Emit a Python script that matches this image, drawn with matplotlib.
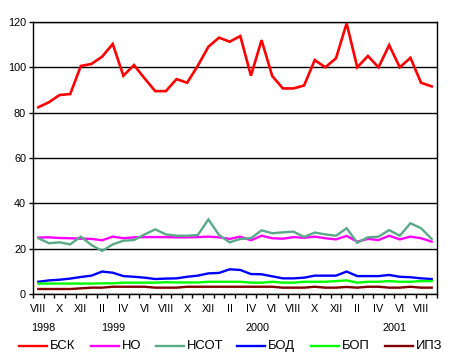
import numpy as np
import matplotlib
matplotlib.use("Agg")
import matplotlib.pyplot as plt
from matplotlib.lines import Line2D
import matplotlib.transforms as mtransforms

plt.rcParams['font.family'] = ['Liberation Sans', 'DejaVu Sans']

months = ['VIII', 'IX', 'X', 'XI', 'XII', 'I', 'II', 'III', 'IV', 'V', 'VI', 'VII',
          'VIII', 'IX', 'X', 'XI', 'XII', 'I', 'II', 'III', 'IV', 'V', 'VI', 'VII',
          'VIII', 'IX', 'X', 'XI', 'XII', 'I', 'II', 'III', 'IV', 'V', 'VI', 'VII',
          'VIII', 'IX']
years = ['1998', '1999', '2000', '2001']
year_pos = [0.44, 7.0, 20.6, 33.5]

series_names = ['БСК', 'НО', 'НСОТ', 'БОД', 'БОП', 'ИПЗ']

bsk = [82.4, 84.6, 87.8, 88.2, 100.6, 101.5, 104.7, 110.3, 96.3, 101.0, 95.1, 89.5, 89.5,
       94.8, 93.2, 100.7, 109.1, 113.1, 111.3, 113.8, 96.3, 112.0, 96.2, 90.7, 90.7, 92.0,
       103.2, 100.0, 104.0, 119.4, 100.0, 105.0, 100.0, 109.8, 100.0, 104.2, 93.2, 91.6]
no = [24.9, 25.0, 24.7, 24.6, 24.4, 24.3, 23.7, 25.3, 24.6, 25.0, 25.1, 25.1, 25.1,
      25.0, 25.0, 25.1, 25.3, 25.0, 24.3, 25.3, 23.7, 25.7, 24.6, 24.4, 25.1, 24.8,
      25.3, 24.6, 24.1, 25.6, 23.1, 24.3, 23.8, 25.7, 24.1, 25.3, 24.6, 23.1]
nsot = [24.6, 22.4, 22.8, 21.9, 25.3, 21.6, 19.0, 21.9, 23.5, 23.8, 26.3, 28.5, 26.3,
        25.7, 25.7, 26.0, 32.9, 26.0, 22.8, 24.3, 24.6, 28.1, 26.8, 27.2, 27.5, 25.2,
        27.1, 26.3, 25.7, 29.0, 22.6, 25.0, 25.3, 28.2, 25.7, 31.2, 29.0, 24.3]
bod = [5.4, 6.0, 6.3, 6.8, 7.5, 8.1, 9.9, 9.4, 7.9, 7.6, 7.2, 6.6, 6.8,
       6.9, 7.6, 8.1, 9.1, 9.3, 10.9, 10.6, 8.8, 8.7, 7.8, 6.9, 6.9, 7.2,
       8.1, 8.1, 8.1, 9.9, 7.9, 7.9, 7.9, 8.4, 7.6, 7.4, 6.9, 6.6]
bop = [4.6, 4.6, 4.6, 4.6, 4.6, 4.6, 4.7, 4.7, 5.0, 5.0, 5.0, 5.0, 5.2,
       5.1, 5.1, 5.1, 5.4, 5.4, 5.4, 5.4, 5.0, 5.0, 5.4, 5.0, 5.0, 5.4,
       5.4, 5.4, 5.7, 6.0, 5.0, 5.4, 5.4, 5.7, 5.4, 5.4, 5.7, 5.7]
ipz = [2.2, 2.2, 2.2, 2.2, 2.5, 2.8, 2.8, 3.2, 3.2, 3.2, 3.2, 2.8, 2.8,
       2.8, 3.2, 3.2, 3.2, 3.2, 3.2, 3.2, 3.2, 3.2, 3.2, 2.8, 2.8, 2.8,
       3.2, 2.8, 2.8, 3.1, 2.8, 3.2, 3.2, 2.8, 2.8, 3.2, 2.8, 2.8]

colors = ['#FF0000', '#FF00FF', '#5AAA88', '#0000FF', '#00FF00', '#800000']
series = [bsk, no, nsot, bod, bop, ipz]
widths = [1.9, 1.7, 1.7, 1.7, 1.7, 1.7]

W, H = 452, 364
fig = plt.figure(figsize=(W / 100, H / 100), dpi=100)
fig.patch.set_facecolor('white')
ax = fig.add_axes([33 / W, 1 - 294 / H, 404 / W, 272 / H])

x = np.arange(len(months))
for vals, c, name, lw in zip(series, colors, series_names, widths):
    ax.plot(x, vals, color=c, lw=lw, solid_joinstyle='miter', label=name, zorder=3)

ax.set_xlim(-0.5, len(months) - 0.5)
ax.set_ylim(0, 120)
ax.set_yticks(range(0, 121, 20))
ax.yaxis.grid(True, color='black', lw=1.0)
ax.set_axisbelow(True)
ax.tick_params(axis='y', length=3, width=1, labelsize=7.8, pad=2, colors='black')

# category boundaries as major ticks, labels on minor ticks at centers
ax.set_xticks(np.arange(-0.5, len(months), 1))
ax.set_xticklabels([])
ax.tick_params(axis='x', which='major', length=3, width=1, direction='out')
lab_idx = list(range(0, len(months), 2))
ax.set_xticks(lab_idx, minor=True)
ax.set_xticklabels([months[i] for i in lab_idx], minor=True)
ax.tick_params(axis='x', which='minor', length=0, pad=7, labelsize=7.8)

for s in ax.spines.values():
    s.set_color('black')
    s.set_linewidth(1.0)

trans = mtransforms.blended_transform_factory(ax.transData, fig.transFigure)
for yr, pos in zip(years, year_pos):
    fig.text(pos, 1 - 328 / H, yr, transform=trans, ha='center', va='center', fontsize=7.8)

# legend drawn manually to match spacing
leg_x = [19.3, 91, 156, 237.3, 311, 385]
leg_y = 1 - 346.3 / H
for name, c, lx in zip(series_names, colors, leg_x):
    fig.add_artist(Line2D([lx / W, (lx + 28) / W], [leg_y, leg_y], color=c, lw=1.7,
                          transform=fig.transFigure))
    fig.text((lx + 31) / W, leg_y, name, ha='left', va='center', fontsize=9.4)

fig.savefig('out.png', dpi=100, facecolor='white')
